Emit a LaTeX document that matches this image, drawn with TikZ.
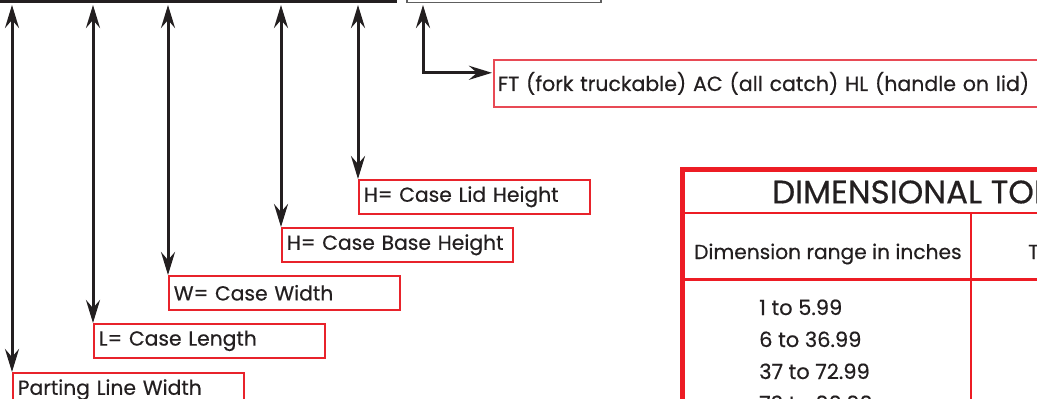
\documentclass[tikz,border=0pt]{standalone}
\usepackage{fontspec}
\setmainfont{Poppins}
\newfontfamily\medfont{Poppins}[FakeBold=0.5]
\usetikzlibrary{arrows.meta}
\definecolor{tred}{HTML}{ED1C24}
\definecolor{lred}{HTML}{E8232B}
\definecolor{fred}{HTML}{E84A55}
\definecolor{ink}{HTML}{231F20}
\definecolor{gbox}{HTML}{5E5E5E}
\newcommand{\lblfont}{\medfont\fontsize{20.3}{24}\selectfont}
\newcommand{\ftfont}{\medfont\fontsize{20.5}{24}\selectfont}
\newcommand{\hdfont}{\medfont\fontsize{20.2}{24}\selectfont}
\newcommand{\rowfont}{\medfont\fontsize{21}{24}\selectfont}
\newcommand{\titlefont}{\medfont\fontsize{32.5}{36}\selectfont}
\tikzset{
  lbl/.style={draw=lred, line width=1.6pt, anchor=north west, minimum height=34pt,
    text width=221pt, inner xsep=5pt, inner ysep=0pt, align=left, font=\lblfont, text=ink},
  ftbox/.style={draw=fred, line width=1.6pt, anchor=north west, minimum height=47pt,
    text width=560pt, inner xsep=4pt, inner ysep=0pt, align=left, font=\ftfont, text=ink},
  dimarr/.style={draw=ink, line width=3pt, line join=miter,
    {Stealth[length=23pt,width=14pt,inset=8pt]}-{Stealth[length=23pt,width=14pt,inset=8pt]}},
  tthick/.style={draw=tred, line width=5pt},
  tthin/.style={draw=tred, line width=2.2pt},
  hdtxt/.style={font=\hdfont, text=ink, anchor=base west, inner sep=0pt},
  rowtxt/.style={font=\rowfont, text=ink, anchor=base west, inner sep=0pt}
}
\begin{document}
\begin{tikzpicture}[x=1pt,y=-1pt]
\useasboundingbox (0,0) rectangle (1037,399);
\begin{scope}
\clip (0,0) rectangle (1037,399);
% top bar and gray box
\draw[draw=ink, line width=3pt] (-5,1) -- (397,1);
\draw[draw=gbox, line width=1.5pt] (407,-20) rectangle (601,2.5);
% arrow top ends
\coordinate (t1) at (12,5);
\coordinate (t2) at (93,5);
\coordinate (t3) at (168,5);
\coordinate (t4) at (281,5);
\coordinate (t5) at (358,5);
\coordinate (t6) at (423,5);
% labels
\node[lbl] (lid) at (358,179) {H= Case Lid Height};
\node[lbl] (base) at (281,227) {H= Case Base Height};
\node[lbl] (wid) at (168,275) {W= Case Width};
\node[lbl] (len) at (93,323) {L= Case Length};
\node[lbl] (part) at (12,372) {Parting Line Width};
\node[ftbox] (ft) at (493,59) {FT (fork truckable) AC (all catch) HL (handle on lid)};
% arrows
\draw[dimarr] (t1) -- (part.north west);
\draw[dimarr] (t2) -- (len.north west);
\draw[dimarr] (t3) -- (wid.north west);
\draw[dimarr] (t4) -- (base.north west);
\draw[dimarr] (t5) -- (lid.north west);
\draw[dimarr] (t6) |- ([yshift=10.5pt,xshift=-1pt]ft.west);
% table
\draw[tthick] (682.5,169.5) -- (1100,169.5);
\draw[tthick] (682.5,167) -- (682.5,420);
\draw[tthin] (685,213) -- (1100,213);
\draw[tthin] (685,279.5) -- (1100,279.5);
\draw[tthin] (971,213) -- (971,420);
\node[font=\titlefont, text=ink, anchor=west, inner sep=0pt] (title) at (772,192) {DIMENSIONAL TOLERANCES};
\node[hdtxt] (h1) at (694,259) {Dimension range in inches};
\node[hdtxt] (h2) at (1028,259) {Tolerance};
\node[rowtxt] (r1) at (759,315) {1 to 5.99};
\node[rowtxt] (r2) at (759,347) {6 to 36.99};
\node[rowtxt] (r3) at (759,379) {37 to 72.99};
\node[rowtxt] (r4) at (759,411) {73 to 99.99};
\end{scope}
\end{tikzpicture}
\end{document}
